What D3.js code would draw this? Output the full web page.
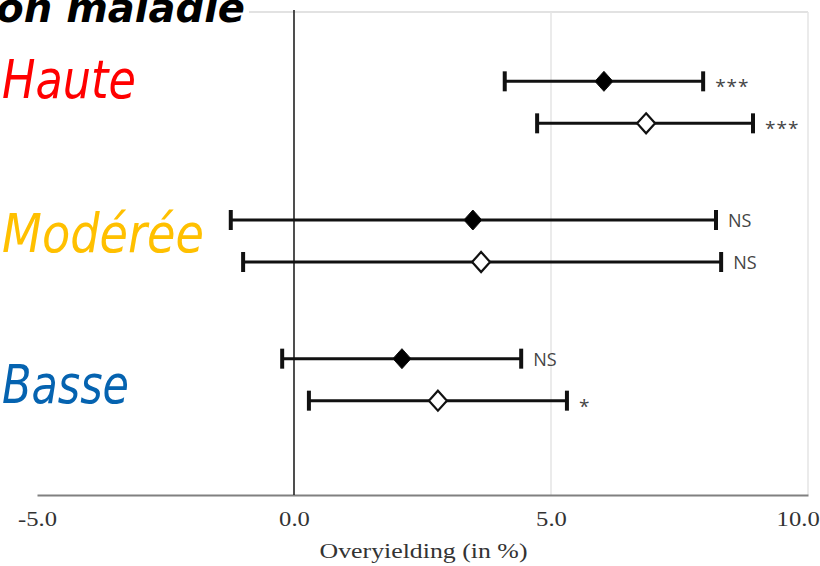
<!DOCTYPE html>
<html>
<head>
<meta charset="utf-8">
<script src="https://cdn.jsdelivr.net/npm/d3@7"></script>
<style>
  body { margin: 0; background: #fff; }
  svg { display: block; }
</style>
</head>
<body>
<div id="root"></div>
<script>
// data
const groups = ["Haute", "Modérée", "Basse"];
const series = ["filled", "open"];
const meanFilled = [6.03, 3.48, 2.10];
const lowFilled = [4.10, -1.23, -0.23];
const highFilled = [7.96, 8.21, 4.42];
const meanOpen = [6.85, 3.64, 2.80];
const lowOpen = [4.73, -0.99, 0.29];
const highOpen = [8.93, 8.31, 5.31];
const sigFilled = ["***", "NS", "NS"];
const sigOpen = ["***", "NS", "*"];
const xTicks = [-5, 0, 5, 10];
const xTitle = "Overyielding (in %)";
const title = "Pression maladie";

drawForest();

function drawForest() {
    const width = 820;
    const height = 566;
    const plotTop = 12, plotBottom = 495;
    const groupColors = ["#ff0000", "#ffc000", "#0563b0"];
    const labelDy = [-4, 11, 23];  // the slide labels are not centred on the rows

    let svg = d3.select("#root")
                .append("svg")
                .attr("width", width)
                .attr("height", height);

    const x = d3.scaleLinear().domain([-5, 10]).range([37, 808]);
    const yGroup = d3.scaleBand().domain(groups).range([33, 449]);
    const ySeries = d3.scalePoint().domain(series).range([-21, 21]);

    // one row per group / series
    let rows = [];
    groups.forEach(function(g, i) {
        rows.push({group: g, s: "filled", mean: meanFilled[i], lo: lowFilled[i], hi: highFilled[i], sig: sigFilled[i]});
        rows.push({group: g, s: "open", mean: meanOpen[i], lo: lowOpen[i], hi: highOpen[i], sig: sigOpen[i]});
    });
    const rowY = d => yGroup(d.group) + yGroup.bandwidth() / 2 + ySeries(d.s);

    // grid lines + frame
    svg.append("line")
        .attr("x1", x(-5)).attr("x2", x(10))
        .attr("y1", plotTop).attr("y2", plotTop)
        .style("stroke", "#d9d9d9").style("stroke-width", 1.5);

    svg.selectAll(".grid")
        .data(xTicks.filter(t => t > 0))
        .enter()
        .append("line")
        .attr("class", "grid")
        .attr("x1", d => x(d)).attr("x2", d => x(d))
        .attr("y1", plotTop).attr("y2", plotBottom)
        .style("stroke", "#e4e4e4").style("stroke-width", 1.5);

    // bottom axis
    const axis = svg.append("g")
        .attr("transform", `translate(0,${plotBottom})`)
        .call(d3.axisBottom(x).tickValues(xTicks).tickSize(0).tickFormat(d => d.toFixed(1)));
    axis.select(".domain").style("stroke", "#808080").style("stroke-width", 2);
    axis.selectAll("text")
        .attr("y", 31).attr("dy", 0)
        .attr("transform", "scale(1.12,1)")
        .attr("text-anchor", d => d === 10 ? "end" : "middle")
        .attr("x", d => d === 10 ? 10 : 0)
        .style("font-family", "'Liberation Serif', 'Times New Roman', serif")
        .style("font-size", "22px")
        .style("fill", "#333");

    svg.append("text")
        .attr("x", (x(-5) + x(10)) / 2 + 1)
        .attr("y", 558)
        .attr("text-anchor", "middle")
        .attr("textLength", 208)
        .attr("lengthAdjust", "spacingAndGlyphs")
        .style("font-family", "'Liberation Serif', 'Times New Roman', serif")
        .style("font-size", "20px")
        .style("fill", "#333")
        .text(xTitle);

    // zero line
    svg.append("line")
        .attr("x1", x(0)).attr("x2", x(0))
        .attr("y1", plotTop - 2).attr("y2", plotBottom)
        .style("stroke", "#222").style("stroke-width", 1.6);

    // error bars
    let bars = svg.append("g").attr("class", "bars");
    bars.selectAll(".ci")
        .data(rows)
        .enter()
        .append("line")
        .attr("x1", d => x(d.lo)).attr("x2", d => x(d.hi))
        .attr("y1", rowY).attr("y2", rowY)
        .style("stroke", "#111").style("stroke-width", 3);

    const caps = rows.flatMap(d => [{v: d.lo, r: d}, {v: d.hi, r: d}]);
    bars.selectAll(".cap")
        .data(caps)
        .enter()
        .append("line")
        .attr("x1", d => x(d.v)).attr("x2", d => x(d.v))
        .attr("y1", d => rowY(d.r) - 10).attr("y2", d => rowY(d.r) + 10)
        .style("stroke", "#111").style("stroke-width", 4);

    // diamonds
    bars.selectAll(".pt")
        .data(rows)
        .enter()
        .append("path")
        .attr("d", d => {
            const cx = x(d.mean), cy = rowY(d), r = 10;
            return `M${cx},${cy - r}L${cx + r - 1},${cy}L${cx},${cy + r}L${cx - r + 1},${cy}Z`;
        })
        .style("fill", d => d.s === "filled" ? "#000" : "#fff")
        .style("stroke", "#111")
        .style("stroke-width", d => d.s === "filled" ? 1 : 2.2);

    // significance marks
    bars.selectAll(".sig")
        .data(rows)
        .enter()
        .append("text")
        .attr("x", d => x(d.hi) + 12)
        .attr("y", d => rowY(d) + (d.sig === "NS" ? 7 : 12))
        .style("font-family", "'Open Sans', 'Noto Sans', sans-serif")
        .style("font-size", d => d.sig === "NS" ? "18px" : "19px")
        .style("letter-spacing", d => d.sig === "NS" ? "0px" : "1px")
        .style("fill", "#444")
        .text(d => d.sig);

    // slide labels on the left
    const labelWidths = [134, 202, 127];
    svg.selectAll(".glabel")
        .data(groups)
        .enter()
        .append("text")
        .attr("x", 2)
        .attr("y", (d, i) => yGroup(d) + yGroup.bandwidth() / 2 + labelDy[i])
        .attr("textLength", (d, i) => labelWidths[i])
        .attr("lengthAdjust", "spacingAndGlyphs")
        .style("font-family", "'Comic Sans MS', 'DejaVu Sans', sans-serif")
        .style("font-style", "italic")
        .style("font-size", "54px")
        .style("fill", (d, i) => groupColors[i])
        .text(d => d);

    // title, cut off at the top left like the slide
    let t = svg.append("text")
        .attr("x", 245)
        .attr("y", 22)
        .attr("text-anchor", "end")
        .style("font-family", "'Comic Sans MS', 'DejaVu Sans', sans-serif")
        .style("font-style", "italic")
        .style("font-weight", "bold")
        .style("font-size", "40px")
        .style("fill", "#000")
        .text(title);
    const bb = t.node().getBBox();
    svg.insert("rect", () => t.node())
        .attr("x", bb.x).attr("y", 0)
        .attr("width", bb.width + 4).attr("height", bb.y + bb.height)
        .style("fill", "#fff");
}
</script>
</body>
</html>
